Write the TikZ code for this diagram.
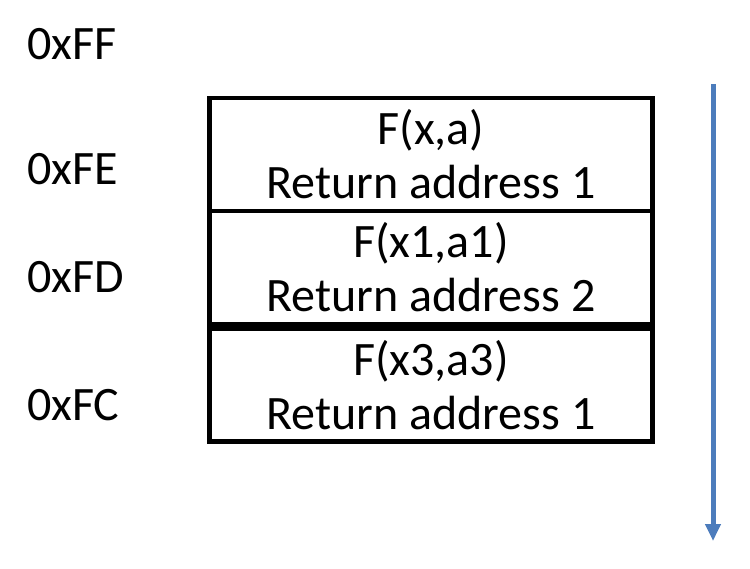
\documentclass[tikz,border=0pt]{standalone}
\usepackage{fontspec}
\setmainfont{Carlito}
\usetikzlibrary{positioning,arrows.meta}
\definecolor{stackblue}{RGB}{76,124,188}
\tikzset{
  frame/.style={draw, line width=4.5pt, outer sep=0pt, inner sep=0pt,
    minimum width=443pt, minimum height=113pt, align=center,
    font=\fontsize{48}{54}\selectfont},
  addr/.style={anchor=base west, inner sep=0pt, font=\fontsize{48}{54}\selectfont},
  stackdir/.style={draw=stackblue, line width=5pt, -{Triangle[width=15pt,length=17pt]}}
}
\begin{document}
\begin{tikzpicture}[x=1pt,y=-1pt]
      \useasboundingbox (0,0) rectangle (750,568);
      \path
        (27,59) node[addr] (ff){0xFF}
        (27,184) node[addr] (fe){0xFE}
        (27,292) node[addr] (fd){0xFD}
        (27,420) node[addr] (fc){0xFC};
      \node[frame] (frame1) at (431,154.5) {F(x,a)\\Return address 1};
      \node[frame, below=0pt of frame1] (frame2) {F(x1,a1)\\Return address 2};
      \node[frame, below=4.5pt of frame2] (frame3) {F(x3,a3)\\Return address 1};
      \coordinate (top) at (713,84);
      \coordinate (bottom) at (713,541);
      \draw[stackdir] (top) -- (bottom);
    \end{tikzpicture}
\end{document}
